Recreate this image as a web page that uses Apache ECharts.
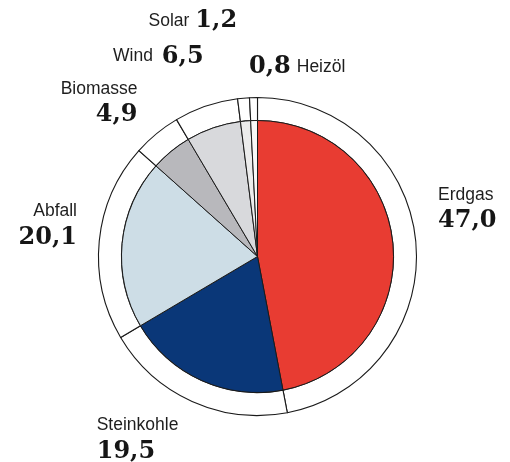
<!DOCTYPE html>
<html>
<head>
<meta charset="utf-8">
<script src="https://cdn.jsdelivr.net/npm/echarts@6/dist/echarts.min.js"></script>
<style>html,body{margin:0;padding:0;background:#fff;}#c{width:510px;height:462px;}</style>
</head>
<body>
<div id="c"></div>
<script>
var categories = ['Erdgas', 'Steinkohle', 'Abfall', 'Biomasse', 'Wind', 'Solar', 'Heizöl'];
var values = [47.0, 19.5, 20.1, 4.9, 6.5, 1.2, 0.8];
var colors = ['#e83c32', '#0a3778', '#cddde6', '#b8b8bc', '#d8d9dc', '#ececec', '#f8f8f8'];

// label layout: [x, y, align, verticalAlign, style, gap]
var labelPos = [
  [438, 182.8, 'left', 'top', 'two', 0],
  [96.7, 413.5, 'left', 'top', 'two', 0],
  [77, 199.5, 'right', 'top', 'two', 0],
  [137.5, 76.8, 'right', 'top', 'two', 0],
  [113, 56.5, 'left', 'middle', 'nameFirst', 9],
  [148.5, 21, 'left', 'middle', 'nameFirst', 6],
  [249, 67, 'left', 'middle', 'valueFirst', 6]
];

function fmt(v) { return v.toFixed(1).replace('.', ','); }

var center = [257.5, 256.5];
var chart = echarts.init(document.getElementById('c'), null, {renderer: 'canvas'});
var dataInner = categories.map(function (c, i) {
  return {name: c, value: values[i], itemStyle: {color: colors[i]}};
});
var dataOuter = categories.map(function (c, i) {
  return {name: c, value: values[i]};
});

var sans = 'Liberation Sans, Arial, sans-serif';
var serif = 'DejaVu Serif, serif';

chart.setOption({
  animation: false,
  series: [
    {
      type: 'pie',
      silent: true,
      center: center,
      radius: [136, 159],
      startAngle: 90,
      clockwise: true,
      data: dataOuter,
      itemStyle: {color: '#ffffff', borderColor: '#1a1a1a', borderWidth: 1.1},
      label: {show: false},
      labelLine: {show: false},
      emphasis: {disabled: true}
    },
    {
      type: 'pie',
      silent: true,
      center: center,
      radius: [0, 136],
      startAngle: 90,
      clockwise: true,
      avoidLabelOverlap: false,
      data: dataInner,
      itemStyle: {borderColor: '#1a1a1a', borderWidth: 1},
      emphasis: {disabled: true},
      labelLine: {show: false},
      label: {
        show: true,
        position: 'outside',
        formatter: function (p) {
          var lp = labelPos[p.dataIndex];
          var v = fmt(p.value);
          if (lp[4] === 'two') return '{n|' + p.name + '}\n{v|' + v + '}';
          if (lp[4] === 'nameFirst') return '{n|' + p.name + '}{g' + lp[5] + '|}{v|' + v + '}';
          return '{v|' + v + '}{g' + lp[5] + '|}{n|' + p.name + '}';
        },
        rich: {
          n: {fontFamily: sans, fontSize: 17.5, color: '#1e1e1e', lineHeight: 24},
          v: {fontFamily: serif, fontWeight: 'bold', fontSize: 24, color: '#161616', lineHeight: 28},
          g6: {width: 6},
          g9: {width: 9}
        }
      },
      labelLayout: function (params) {
        var lp = labelPos[params.dataIndex];
        return {x: lp[0], y: lp[1], align: lp[2], verticalAlign: lp[3], hideOverlap: false};
      }
    }
  ]
});
</script>
</body>
</html>
